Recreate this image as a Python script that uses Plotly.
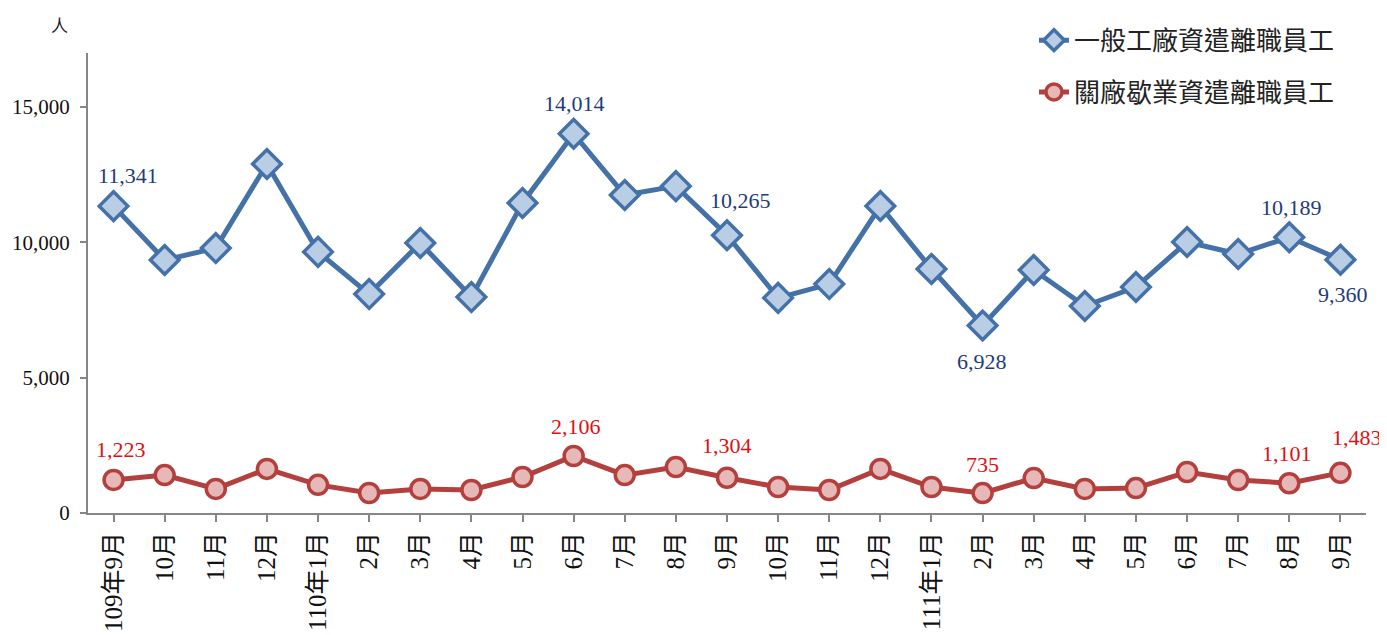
import plotly.graph_objects as go

months = ["109年9月", "10月", "11月", "12月", "110年1月", "2月", "3月", "4月", "5月", "6月",
          "7月", "8月", "9月", "10月", "11月", "12月", "111年1月", "2月", "3月", "4月",
          "5月", "6月", "7月", "8月", "9月"]
# category keys must be unique, labels repeat
keys = list(range(len(months)))

general = [11341, 9350, 9790, 12900, 9650, 8090, 9980, 7980, 11460, 14014,
           11750, 12080, 10265, 7950, 8460, 11345, 9020, 6928, 8980, 7650,
           8350, 10015, 9570, 10189, 9360]
closure = [1223, 1400, 890, 1630, 1040, 740, 890, 850, 1330, 2106,
           1400, 1700, 1304, 960, 850, 1630, 960, 735, 1290, 890,
           920, 1515, 1220, 1101, 1483]

# which points get a value label, with pixel offsets (dx, dy)
general_labels = {0: (14, 31), 9: (1, 30), 12: (13, 35), 17: (-1, -36), 23: (2, 30), 24: (3, -35)}
closure_labels = {0: (7, 30), 9: (2, 30), 12: (0, 32), 17: (0, 29), 23: (-2, 30), 24: (17, 35)}

SERIF = "Liberation Serif, Times New Roman, serif"
CJK = "Noto Sans CJK TC, serif"

fig = go.Figure()
fig.add_trace(go.Scatter(
    x=keys, y=general, mode="lines+markers", name="一般工廠資遣離職員工",
    line={"color": "#4472A8", "width": 5},
    marker={"symbol": "diamond", "size": 22, "color": "#B9CDE5",
            "line": {"color": "#4472A8", "width": 3.5}},
    legendgroup="a",
))
fig.add_trace(go.Scatter(
    x=keys, y=closure, mode="lines+markers", name="關廠歇業資遣離職員工",
    line={"color": "#B4403E", "width": 5},
    marker={"symbol": "circle", "size": 19, "color": "#E6B9B8",
            "line": {"color": "#B4403E", "width": 3.5}},
    legendgroup="b",
))

annotations = []
for i, (dx, dy) in general_labels.items():
    annotations.append(dict(
        x=keys[i], y=general[i], xref="x", yref="y", text=f"{general[i]:,}",
        showarrow=False, xshift=dx, yshift=dy,
        font={"family": SERIF, "size": 22, "color": "#1F3C7A"},
    ))
for i, (dx, dy) in closure_labels.items():
    annotations.append(dict(
        x=keys[i], y=closure[i], xref="x", yref="y", text=f"{closure[i]:,}",
        showarrow=False, xshift=dx, yshift=dy,
        font={"family": SERIF, "size": 22, "color": "#E01010"},
    ))
# unit label above the y axis
annotations.append(dict(
    x=-0.022, y=1.061, xref="paper", yref="paper", xanchor="center", yanchor="middle",
    text="人", showarrow=False,
    font={"family": CJK, "size": 17, "color": "#222"},
))

# the page body adds an 8px margin, so the figure is 8px smaller on each axis
fig.update_layout(
    width=1379, height=627,
    margin={"l": 80, "r": 21, "t": 45, "b": 122, "autoexpand": False},
    paper_bgcolor="white", plot_bgcolor="white",
    showlegend=True,
    legend={
        "xref": "container", "yref": "container",
        "x": 0.744, "y": 0.986, "xanchor": "left", "yanchor": "top",
        "font": {"family": CJK, "size": 26, "color": "#222"},
        "traceorder": "grouped", "tracegroupgap": 15,
        "bgcolor": "rgba(0,0,0,0)",
    },
    annotations=annotations,
    xaxis={
        "range": [-0.5, 24.5], "tickmode": "array", "tickvals": keys, "ticktext": months,
        "tickangle": -90, "tickson": "boundaries", "ticks": "outside", "ticklen": 7,
        "tickcolor": "#868686", "tickwidth": 2, "automargin": False,
        "showline": True, "linecolor": "#868686", "linewidth": 2,
        "showgrid": False, "zeroline": False,
        "tickfont": {"family": SERIF + ", " + CJK, "size": 25, "color": "#111"},
    },
    yaxis={
        "range": [0, 17000], "tickvals": [0, 5000, 10000, 15000], "tickformat": ",",
        "ticks": "outside", "ticklen": 6, "tickcolor": "#868686", "tickwidth": 2,
        "ticklabelstandoff": 6, "automargin": False,
        "showline": True, "linecolor": "#868686", "linewidth": 2,
        "showgrid": False, "zeroline": False,
        "tickfont": {"family": SERIF, "size": 21, "color": "#111"},
    },
)

fig.write_html("out.html")
